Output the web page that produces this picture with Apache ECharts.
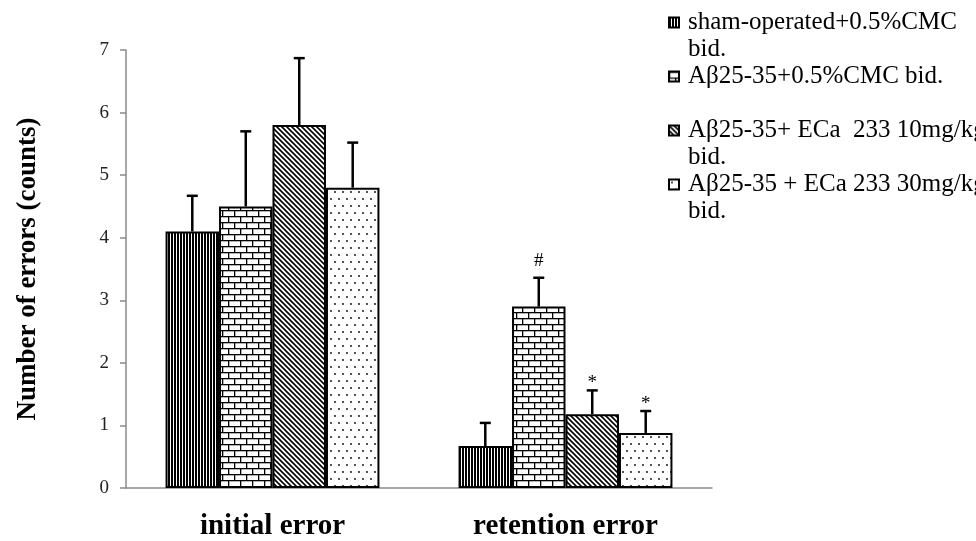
<!DOCTYPE html>
<html>
<head>
<meta charset="utf-8">
<script src="https://cdn.jsdelivr.net/npm/echarts@6/dist/echarts.min.js"></script>
<style>
  html, body { margin: 0; padding: 0; background: #fff; }
  #chart { width: 976px; height: 541px; }
</style>
</head>
<body>
<div id="chart"></div>
<script>
// Categories and series
const categories = ['initial error', 'retention error'];
const seriesNames = [
  'sham-operated+0.5%CMC bid.',
  'Aβ25-35+0.5%CMC bid.',
  'Aβ25-35+ ECa  233 10mg/kg bid.',
  'Aβ25-35 + ECa 233 30mg/kg bid.'
];
// Legend text as it is broken over lines
const legendLines = [
  ['sham-operated+0.5%CMC', 'bid.'],
  ['Aβ25-35+0.5%CMC bid.', ' '],
  ['Aβ25-35+ ECa  233 10mg/kg', 'bid.'],
  ['Aβ25-35 + ECa 233 30mg/kg', 'bid.']
];
// Mean number of errors per group (initial, retention)
const shamValues = [4.1, 0.67];
const abValues = [4.5, 2.9];
const eca10Values = [5.8, 1.18];
const eca30Values = [4.8, 0.88];
// Upper error (SD) per group
const shamErr = [0.57, 0.37];
const abErr = [1.2, 0.46];
const eca10Err = [1.07, 0.38];
const eca30Err = [0.72, 0.35];
// Significance marks above the error bars
const shamMarks = ['', ''];
const abMarks = ['', '#'];
const eca10Marks = ['', '*'];
const eca30Marks = ['', '*'];
// Y axis ticks
const yMin = 0, yMax = 7, yStep = 1;

const values = [shamValues, abValues, eca10Values, eca30Values];
const errors = [shamErr, abErr, eca10Err, eca30Err];
const marks = [shamMarks, abMarks, eca10Marks, eca30Marks];

const SERIF = '"Liberation Serif", "Times New Roman", serif';

// Fill patterns drawn on small tiles
function tile(w, h, draw) {
  const c = document.createElement('canvas');
  c.width = w; c.height = h;
  const ctx = c.getContext('2d');
  ctx.fillStyle = '#fff';
  ctx.fillRect(0, 0, w, h);
  draw(ctx, w, h);
  return { image: c, repeat: 'repeat' };
}
const stripes = tile(3, 4, (ctx) => {
  ctx.fillStyle = '#000';
  ctx.fillRect(0, 0, 2, 4);
});
const bricks = tile(12, 12, (ctx) => {
  ctx.fillStyle = '#000';
  ctx.fillRect(0, 0, 12, 1.3);
  ctx.fillRect(0, 6, 12, 1.3);
  ctx.fillRect(0, 0, 1.3, 6);
  ctx.fillRect(6, 6, 1.3, 6);
});
const diagonal = tile(5, 5, (ctx) => {
  ctx.strokeStyle = '#000';
  ctx.lineWidth = 1.6;
  ctx.beginPath();
  ctx.moveTo(-1, -1); ctx.lineTo(6, 6);
  ctx.moveTo(-1, 4); ctx.lineTo(1, 6);
  ctx.moveTo(4, -1); ctx.lineTo(6, 1);
  ctx.stroke();
});
const dots = tile(16, 14, (ctx) => {
  ctx.fillStyle = '#000';
  [[3, 3], [11, 3], [7, 10], [15, 10], [-1, 10]].forEach(([x, y]) => {
    ctx.beginPath(); ctx.arc(x, y, 0.9, 0, Math.PI * 2); ctx.fill();
  });
});
const fills = [stripes, bricks, diagonal, dots];

const CAT_GAP = 0.27;
const N = seriesNames.length;

const barSeries = seriesNames.map((name, k) => ({
  name,
  type: 'bar',
  data: values[k],
  barGap: '0%',
  barCategoryGap: (CAT_GAP * 100) + '%',
  itemStyle: { color: fills[k], borderColor: '#000', borderWidth: 2 },
  z: 2
}));

// Vertical lift of each mark's centre above the cap
const markLift = { '#': 17, '*': 7 };

// Upper error bars with caps and significance marks
const errSeries = seriesNames.map((name, k) => ({
  type: 'custom',
  name: name + ' SD',
  data: values[k].map((v, i) => [i, v, errors[k][i]]),
  z: 3,
  silent: true,
  renderItem(params, api) {
    const cat = api.value(0), v = api.value(1), e = api.value(2);
    const band = api.size([1, 0])[0];
    const bw = band * (1 - CAT_GAP) / N;
    const x = api.coord([cat, 0])[0] + (k - (N - 1) / 2) * bw;
    const yTop = api.coord([cat, v])[1];
    const yCap = api.coord([cat, v + e])[1];
    const half = 5.5;
    const children = [
      { type: 'line', shape: { x1: x, y1: yTop, x2: x, y2: yCap }, style: { stroke: '#000', lineWidth: 2.5 } },
      { type: 'line', shape: { x1: x - half, y1: yCap, x2: x + half, y2: yCap }, style: { stroke: '#000', lineWidth: 2.5 } }
    ];
    const m = marks[k][params.dataIndex];
    if (m) {
      children.push({
        type: 'text',
        x: x,
        y: yCap - (markLift[m] || 12),
        style: {
          text: m,
          align: 'center', verticalAlign: 'middle',
          font: '19px ' + SERIF, fill: '#000'
        }
      });
    }
    return { type: 'group', children };
  }
}));

const chart = echarts.init(document.getElementById('chart'), null, { renderer: 'canvas' });
chart.setOption({
  animation: false,
  backgroundColor: '#fff',
  grid: { left: 126, right: 264, top: 50, bottom: 51, containLabel: false },
  legend: {
    data: seriesNames,
    orient: 'vertical',
    left: 668,
    top: -18,
    padding: 0,
    itemGap: -27,
    itemWidth: 10,
    itemHeight: 10,
    icon: 'rect',
    formatter: (name) => {
      const l = legendLines[seriesNames.indexOf(name)];
      return '\n' + l[0] + '\n' + l[1];
    },
    textStyle: {
      fontFamily: SERIF, fontSize: 25, color: '#000', lineHeight: 27,
      padding: [0, 0, 0, 4]
    }
  },
  xAxis: {
    type: 'category',
    data: categories,
    axisLine: { lineStyle: { color: '#8a8a8a', width: 1.5 } },
    axisTick: { show: false },
    axisLabel: {
      margin: 24,
      fontFamily: SERIF, fontSize: 29, fontWeight: 'bold', color: '#000'
    }
  },
  yAxis: {
    type: 'value',
    min: yMin, max: yMax, interval: yStep,
    name: 'Number of errors (counts)',
    nameLocation: 'middle',
    nameGap: 84,
    nameTextStyle: { fontFamily: SERIF, fontSize: 27, fontWeight: 'bold', color: '#000' },
    axisLine: { show: true, lineStyle: { color: '#8a8a8a', width: 1.5 } },
    axisTick: { show: true, length: 6, lineStyle: { color: '#8a8a8a', width: 1.5 } },
    splitLine: { show: false },
    axisLabel: { margin: 17, fontFamily: SERIF, fontSize: 19, color: '#222' }
  },
  series: [...barSeries, ...errSeries]
});
</script>
</body>
</html>
